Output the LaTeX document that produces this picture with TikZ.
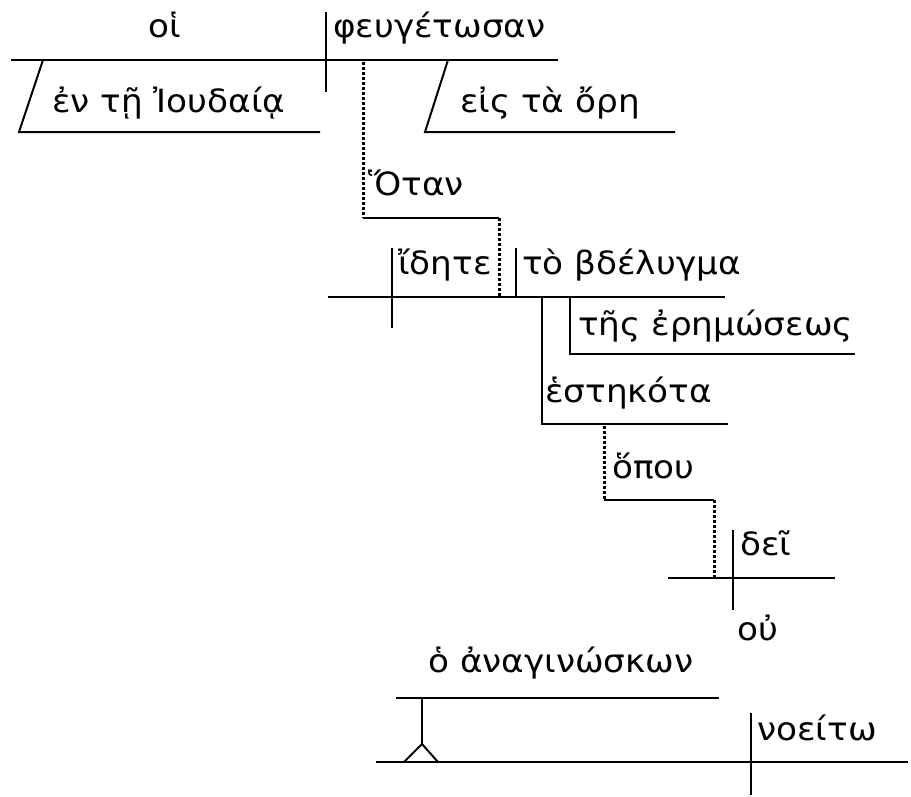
\documentclass[tikz,border=0pt]{standalone}
\usepackage{fontspec}
\setmainfont[FakeStretch=1.07]{DejaVu Sans}
\begin{document}
\begin{tikzpicture}[x=1pt,y=-1pt,
  ln/.style={line width=2pt},
  dot/.style={line width=3pt, dash pattern=on 3pt off 2pt},
  word/.style={inner sep=0pt, anchor=base west, font=\fontsize{32}{38}\selectfont}]
\useasboundingbox (0,0) rectangle (911,796);
% text
\node[word, anchor=base] (oi) at (165,37) {οἱ};
\node[word] (feug) at (333,37) {φευγέτωσαν};
\node[word] (en) at (52,112) {ἐν τῇ Ἰουδαίᾳ};
\node[word] (eis) at (460,112) {εἰς τὰ ὄρη};
\node[word] (otan) at (368,195) {Ὅταν};
\node[word] (idete) at (398,274) {ἴδητε};
\node[word] (to) at (522,274) {τὸ βδέλυγμα};
\node[word] (tes) at (578,335) {τῆς ἐρημώσεως};
\node[word] (est) at (545,402) {ἑστηκότα};
\node[word] (opou) at (612,478) {ὅπου};
\node[word] (dei) at (740,555) {δεῖ};
\node[word] (ou) at (737,640) {οὐ};
\node[word] (ho) at (428,672) {ὁ ἀναγινώσκων};
\node[word] (noei) at (757,740) {νοείτω};
% coordinates
\coordinate (m1a) at (11,60); \coordinate (m1b) at (558,60);
\coordinate (d1a) at (326,12); \coordinate (d1b) at (326,92);
\coordinate (s1a) at (43,60); \coordinate (s1b) at (19,132); \coordinate (s1c) at (320,132);
\coordinate (s2a) at (448,60); \coordinate (s2b) at (425,132); \coordinate (s2c) at (675,132);
\coordinate (q1a) at (363,62); \coordinate (q1b) at (363,218); \coordinate (q1c) at (499,218); \coordinate (q1d) at (499,297);
\coordinate (m2a) at (328,297); \coordinate (m2b) at (725,297);
\coordinate (d2a) at (392,248); \coordinate (d2b) at (392,328);
\coordinate (o2a) at (516,248); \coordinate (o2b) at (516,297);
\coordinate (t1a) at (570,297); \coordinate (t1b) at (570,354); \coordinate (t1c) at (855,354);
\coordinate (e1a) at (542,297); \coordinate (e1b) at (542,424); \coordinate (e1c) at (728,424);
\coordinate (q2a) at (604,426); \coordinate (q2b) at (604,500); \coordinate (q2c) at (714,500); \coordinate (q2d) at (714,578);
\coordinate (m3a) at (668,578); \coordinate (m3b) at (835,578);
\coordinate (d3a) at (733,530); \coordinate (d3b) at (733,610);
\coordinate (h1a) at (396,698); \coordinate (h1b) at (719,698);
\coordinate (st) at (422,698); \coordinate (sf) at (422,744);
\coordinate (lg1) at (404,762); \coordinate (lg2) at (438,762);
\coordinate (m4a) at (376,762); \coordinate (m4b) at (908,762);
\coordinate (d4a) at (751,713); \coordinate (d4b) at (751,795);
% lines
\draw[ln] (m1a) -- (m1b);
\draw[ln] (d1a) -- (d1b);
\draw[ln] (s1a) -- (s1b) -- (s1c);
\draw[ln] (s2a) -- (s2b) -- (s2c);
\draw[dot] (q1a) -- (q1b);
\draw[ln] (q1b) -- (q1c);
\draw[dot] (q1c) -- (q1d);
\draw[ln] (m2a) -- (m2b);
\draw[ln] (d2a) -- (d2b);
\draw[ln] (o2a) -- (o2b);
\draw[ln] (t1a) -- (t1b) -- (t1c);
\draw[ln] (e1a) -- (e1b) -- (e1c);
\draw[dot] (q2a) -- (q2b);
\draw[ln] (q2b) -- (q2c);
\draw[dot] (q2c) -- (q2d);
\draw[ln] (m3a) -- (m3b);
\draw[ln] (d3a) -- (d3b);
\draw[ln] (h1a) -- (h1b);
\draw[ln] (st) -- (sf);
\draw[ln] (lg1) -- (sf) -- (lg2);
\draw[ln] (m4a) -- (m4b);
\draw[ln] (d4a) -- (d4b);
\end{tikzpicture}
\end{document}
